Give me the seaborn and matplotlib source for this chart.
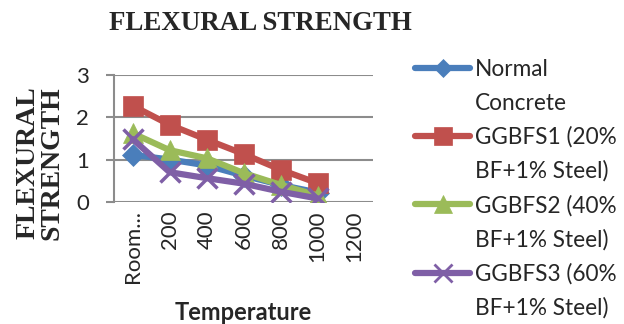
import matplotlib
matplotlib.use("Agg")
import matplotlib.pyplot as plt
from matplotlib.lines import Line2D
import seaborn as sns
import pandas as pd

# Temperature categories (°C) and tick labels
categories = ["Room...", "200", "400", "600", "800", "1000", "1200"]

# Flexural strength for each mix, one value per measured temperature
normal = [1.11, 1.00, 0.86, 0.62, 0.40, 0.22]
ggbfs1 = [2.27, 1.82, 1.47, 1.13, 0.76, 0.44]
ggbfs2 = [1.62, 1.22, 1.03, 0.68, 0.40, 0.15]
ggbfs3 = [1.48, 0.70, 0.56, 0.43, 0.24, 0.08]

series_names = ["Normal Concrete", "GGBFS1 (20% BF+1% Steel)",
                "GGBFS2 (40% BF+1% Steel)", "GGBFS3 (60% BF+1% Steel)"]
legend_lines = [("Normal", "Concrete"), ("GGBFS1 (20%", "BF+1% Steel)"),
                ("GGBFS2 (40%", "BF+1% Steel)"), ("GGBFS3 (60%", "BF+1% Steel)")]
colors = ["#4a7ebb", "#c0504d", "#9bbb59", "#7f5fa6"]
markers = ["D", "s", "^", "x"]
msizes = [11, 15, 15, 15]

rows = []
for name, vals in zip(series_names, [normal, ggbfs1, ggbfs2, ggbfs3]):
    for i, v in enumerate(vals):
        rows.append({"series": name, "pos": i, "value": v})
df = pd.DataFrame(rows)

sns.set_theme(style="white")
plt.rcParams["font.family"] = ["Lato", "DejaVu Sans"]

fig = plt.figure(figsize=(6.24, 3.24), dpi=100)
ax = fig.add_axes([0.183, 0.377, 0.415, 0.392])

for name, c, m, ms in zip(series_names, colors, markers, msizes):
    sub = df[df["series"] == name]
    sns.lineplot(data=sub, x="pos", y="value", ax=ax, color=c, linewidth=4.5,
                 marker=m, markersize=ms, markeredgecolor=c,
                 markeredgewidth=2.5 if m == "x" else 0.5, legend=False)

ax.set_xlim(-0.5, len(categories) - 0.5)
ax.set_ylim(0, 3)
ax.set_yticks([0, 1, 2, 3])
ax.set_yticklabels(["0", "1", "2", "3"], fontsize=16)
ax.set_xticks(range(len(categories)))
ax.set_xticklabels(categories, rotation=90, fontsize=16)
ax.yaxis.grid(True, color="#8c8c8c", linewidth=1.5)
ax.set_axisbelow(True)
for s in ["top", "right", "bottom"]:
    ax.spines[s].set_visible(False)
ax.spines["left"].set_color("#8c8c8c")
ax.spines["left"].set_linewidth(1.5)
ax.tick_params(axis="y", length=6, color="#8c8c8c", width=1.5, pad=12, left=True)
ax.tick_params(axis="x", length=0, pad=6)

ax.set_xlabel("Temperature", fontsize=17, fontweight="bold", labelpad=13)
ax.set_ylabel("")
fig.text(0.064, 0.497, "FLEXURAL\nSTRENGTH", rotation=90, ha="center",
         va="center", fontsize=20, fontweight="bold",
         family="Liberation Serif", linespacing=0.95)
fig.text(0.417, 0.926, "FLEXURAL STRENGTH", ha="center", va="center",
         fontsize=19.4, fontweight="bold", family="Liberation Serif")

# Legend: each entry spans two rows, marker sits beside the first row
handles, labels = [], []
blank = Line2D([], [], linestyle="none")
for c, m, ms, (l1, l2) in zip(colors, markers, msizes, legend_lines):
    handles.append(Line2D([], [], color=c, linewidth=4.5, marker=m,
                          markersize=ms * 0.85, markeredgecolor=c,
                          markeredgewidth=2 if m == "x" else 0.5))
    labels.append(l1)
    handles.append(blank)
    labels.append(l2)
fig.legend(handles, labels, loc="upper left", bbox_to_anchor=(0.665, 0.818),
           frameon=False, fontsize=16.3, handlelength=2.45, handletextpad=0.18,
           labelspacing=0.56, borderaxespad=0, borderpad=0)

fig.savefig("out.png", dpi=100)
